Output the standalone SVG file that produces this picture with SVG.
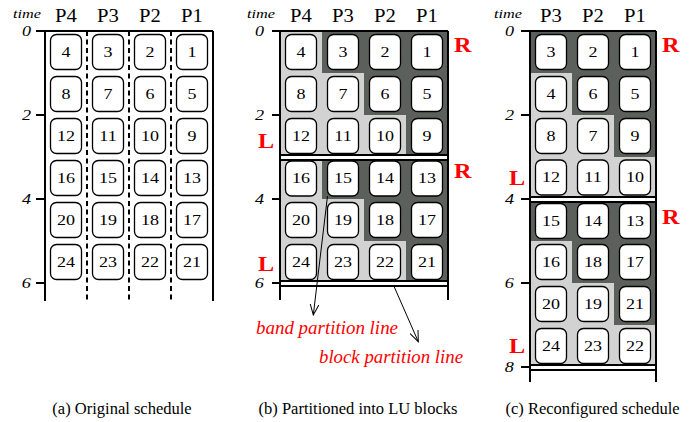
<svg xmlns="http://www.w3.org/2000/svg" width="697" height="422" viewBox="0 0 697 422" font-family="'Liberation Serif', 'DejaVu Serif', 'Times New Roman', serif">
<defs>
<style>
text{font-family:'Liberation Serif','DejaVu Serif','Times New Roman',serif}
.bx{fill:#fff;stroke:#000;stroke-width:1.3}
.n{font-size:15px;text-anchor:middle;transform-box:fill-box;transform-origin:50% 50%;transform:scaleX(1.2)}
.p{font-size:18px;text-anchor:middle;transform-box:fill-box;transform-origin:50% 50%;transform:scaleX(1.15)}
.tm{font-size:13px;font-style:italic;text-anchor:middle;transform-box:fill-box;transform-origin:50% 50%;transform:scaleX(1.25)}
.tk{font-size:14.5px;font-style:italic;text-anchor:end;transform-box:fill-box;transform-origin:100% 50%;transform:scaleX(1.25)}
.rl{font-size:22px;font-weight:bold;fill:#ff0000;transform-box:fill-box;transform-origin:0% 50%;transform:scaleX(1.1)}
.lbl{font-size:18px;font-style:italic;fill:#ff0000}
.cap{font-size:16.5px;text-anchor:middle}
.ln{stroke:#000;stroke-width:2;fill:none}
.dl{stroke:#000;stroke-width:2;stroke-dasharray:5 3.5;fill:none}
.dk{fill:#5c605c}
.lt{fill:#d2d2d2}
.ar{stroke:#000;stroke-width:1;fill:none;marker-end:url(#ah)}
</style>
<marker id="ah" viewBox="0 0 12 10" refX="11" refY="5" markerWidth="12" markerHeight="10" orient="auto" markerUnits="userSpaceOnUse"><path d="M0,0.5 L11,5 L0,9.5" fill="none" stroke="#000" stroke-width="1"/></marker>
</defs>
<rect width="697" height="422" fill="#fff"/>

<!-- Panel (a) -->
<g id="panel-a">
<text class="tm" x="27" y="18">time</text>
<text class="p" x="66" y="22">P4</text><text class="p" x="108" y="22">P3</text><text class="p" x="150" y="22">P2</text><text class="p" x="192" y="22">P1</text>
<path class="ln" d="M36,31H213M45,31V301M213,31V301M36,115H45M36,199H45M36,283H45"/>
<path class="dl" d="M87,31V301M129,31V301M171,31V301"/>
<text class="tk" x="31" y="36">0</text><text class="tk" x="31" y="120">2</text><text class="tk" x="31" y="204">4</text><text class="tk" x="31" y="288">6</text>
<text class="cap" x="122" y="414">(a) Original schedule</text>
</g>
<g id="a4"><rect class="bx" x="50.5" y="34.5" width="31" height="35" rx="6"/><text class="n" x="66" y="57">4</text></g>
<g id="a3"><rect class="bx" x="92.5" y="34.5" width="31" height="35" rx="6"/><text class="n" x="108" y="57">3</text></g>
<g id="a2"><rect class="bx" x="134.5" y="34.5" width="31" height="35" rx="6"/><text class="n" x="150" y="57">2</text></g>
<g id="a1"><rect class="bx" x="176.5" y="34.5" width="31" height="35" rx="6"/><text class="n" x="192" y="57">1</text></g>
<g id="a8"><rect class="bx" x="50.5" y="76.5" width="31" height="35" rx="6"/><text class="n" x="66" y="99">8</text></g>
<g id="a7"><rect class="bx" x="92.5" y="76.5" width="31" height="35" rx="6"/><text class="n" x="108" y="99">7</text></g>
<g id="a6"><rect class="bx" x="134.5" y="76.5" width="31" height="35" rx="6"/><text class="n" x="150" y="99">6</text></g>
<g id="a5"><rect class="bx" x="176.5" y="76.5" width="31" height="35" rx="6"/><text class="n" x="192" y="99">5</text></g>
<g id="a12"><rect class="bx" x="50.5" y="118.5" width="31" height="35" rx="6"/><text class="n" x="66" y="141">12</text></g>
<g id="a11"><rect class="bx" x="92.5" y="118.5" width="31" height="35" rx="6"/><text class="n" x="108" y="141">11</text></g>
<g id="a10"><rect class="bx" x="134.5" y="118.5" width="31" height="35" rx="6"/><text class="n" x="150" y="141">10</text></g>
<g id="a9"><rect class="bx" x="176.5" y="118.5" width="31" height="35" rx="6"/><text class="n" x="192" y="141">9</text></g>
<g id="a16"><rect class="bx" x="50.5" y="160.5" width="31" height="35" rx="6"/><text class="n" x="66" y="183">16</text></g>
<g id="a15"><rect class="bx" x="92.5" y="160.5" width="31" height="35" rx="6"/><text class="n" x="108" y="183">15</text></g>
<g id="a14"><rect class="bx" x="134.5" y="160.5" width="31" height="35" rx="6"/><text class="n" x="150" y="183">14</text></g>
<g id="a13"><rect class="bx" x="176.5" y="160.5" width="31" height="35" rx="6"/><text class="n" x="192" y="183">13</text></g>
<g id="a20"><rect class="bx" x="50.5" y="202.5" width="31" height="35" rx="6"/><text class="n" x="66" y="225">20</text></g>
<g id="a19"><rect class="bx" x="92.5" y="202.5" width="31" height="35" rx="6"/><text class="n" x="108" y="225">19</text></g>
<g id="a18"><rect class="bx" x="134.5" y="202.5" width="31" height="35" rx="6"/><text class="n" x="150" y="225">18</text></g>
<g id="a17"><rect class="bx" x="176.5" y="202.5" width="31" height="35" rx="6"/><text class="n" x="192" y="225">17</text></g>
<g id="a24"><rect class="bx" x="50.5" y="244.5" width="31" height="35" rx="6"/><text class="n" x="66" y="267">24</text></g>
<g id="a23"><rect class="bx" x="92.5" y="244.5" width="31" height="35" rx="6"/><text class="n" x="108" y="267">23</text></g>
<g id="a22"><rect class="bx" x="134.5" y="244.5" width="31" height="35" rx="6"/><text class="n" x="150" y="267">22</text></g>
<g id="a21"><rect class="bx" x="176.5" y="244.5" width="31" height="35" rx="6"/><text class="n" x="192" y="267">21</text></g>

<!-- Panel (b) -->
<g id="panel-b">
<rect class="lt" x="280" y="31" width="168" height="124"/>
<path class="dk" d="M322,31H448V155H406V115H364V73H322Z"/>
<rect class="lt" x="280" y="160" width="168" height="121"/>
<path class="dk" d="M322,160H448V281H406V241H364V199H322Z"/>
<text class="tm" x="261" y="18">time</text>
<text class="p" x="301" y="22">P4</text><text class="p" x="343" y="22">P3</text><text class="p" x="385" y="22">P2</text><text class="p" x="427" y="22">P1</text>
<path class="ln" d="M272,31H448M280,31V300M448,31V300M272,115H280M272,199H280M272,283H280M280,155H448M280,160H448M280,281H448M280,286H448"/>
<text class="tk" x="264" y="36">0</text><text class="tk" x="264" y="120">2</text><text class="tk" x="264" y="204">4</text><text class="tk" x="264" y="288">6</text>
<text class="rl" x="454" y="52">R</text><text class="rl" x="258" y="148">L</text>
<text class="rl" x="454" y="178">R</text><text class="rl" x="258" y="271">L</text>
<text class="lbl" x="256" y="334" textLength="142" lengthAdjust="spacingAndGlyphs">band partition line</text>
<text class="lbl" x="319" y="363" textLength="144" lengthAdjust="spacingAndGlyphs">block partition line</text>
<text class="cap" x="358" y="414">(b) Partitioned into LU blocks</text>
</g>
<g id="b4"><rect class="bx" x="285.5" y="34.5" width="31" height="35" rx="6"/><text class="n" x="301" y="57">4</text></g>
<g id="b3"><rect class="bx" x="327.5" y="34.5" width="31" height="35" rx="6"/><text class="n" x="343" y="57">3</text></g>
<g id="b2"><rect class="bx" x="369.5" y="34.5" width="31" height="35" rx="6"/><text class="n" x="385" y="57">2</text></g>
<g id="b1"><rect class="bx" x="411.5" y="34.5" width="31" height="35" rx="6"/><text class="n" x="427" y="57">1</text></g>
<g id="b8"><rect class="bx" x="285.5" y="76.5" width="31" height="35" rx="6"/><text class="n" x="301" y="99">8</text></g>
<g id="b7"><rect class="bx" x="327.5" y="76.5" width="31" height="35" rx="6"/><text class="n" x="343" y="99">7</text></g>
<g id="b6"><rect class="bx" x="369.5" y="76.5" width="31" height="35" rx="6"/><text class="n" x="385" y="99">6</text></g>
<g id="b5"><rect class="bx" x="411.5" y="76.5" width="31" height="35" rx="6"/><text class="n" x="427" y="99">5</text></g>
<g id="b12"><rect class="bx" x="285.5" y="118.5" width="31" height="35" rx="6"/><text class="n" x="301" y="141">12</text></g>
<g id="b11"><rect class="bx" x="327.5" y="118.5" width="31" height="35" rx="6"/><text class="n" x="343" y="141">11</text></g>
<g id="b10"><rect class="bx" x="369.5" y="118.5" width="31" height="35" rx="6"/><text class="n" x="385" y="141">10</text></g>
<g id="b9"><rect class="bx" x="411.5" y="118.5" width="31" height="35" rx="6"/><text class="n" x="427" y="141">9</text></g>
<g id="b16"><rect class="bx" x="285.5" y="161" width="31" height="35" rx="6"/><text class="n" x="301" y="183.5">16</text></g>
<g id="b15"><rect class="bx" x="327.5" y="161" width="31" height="35" rx="6"/><text class="n" x="343" y="183.5">15</text></g>
<g id="b14"><rect class="bx" x="369.5" y="161" width="31" height="35" rx="6"/><text class="n" x="385" y="183.5">14</text></g>
<g id="b13"><rect class="bx" x="411.5" y="161" width="31" height="35" rx="6"/><text class="n" x="427" y="183.5">13</text></g>
<g id="b20"><rect class="bx" x="285.5" y="202.5" width="31" height="35" rx="6"/><text class="n" x="301" y="225">20</text></g>
<g id="b19"><rect class="bx" x="327.5" y="202.5" width="31" height="35" rx="6"/><text class="n" x="343" y="225">19</text></g>
<g id="b18"><rect class="bx" x="369.5" y="202.5" width="31" height="35" rx="6"/><text class="n" x="385" y="225">18</text></g>
<g id="b17"><rect class="bx" x="411.5" y="202.5" width="31" height="35" rx="6"/><text class="n" x="427" y="225">17</text></g>
<g id="b24"><rect class="bx" x="285.5" y="244.5" width="31" height="35" rx="6"/><text class="n" x="301" y="267">24</text></g>
<g id="b23"><rect class="bx" x="327.5" y="244.5" width="31" height="35" rx="6"/><text class="n" x="343" y="267">23</text></g>
<g id="b22"><rect class="bx" x="369.5" y="244.5" width="31" height="35" rx="6"/><text class="n" x="385" y="267">22</text></g>
<g id="b21"><rect class="bx" x="411.5" y="244.5" width="31" height="35" rx="6"/><text class="n" x="427" y="267">21</text></g>

<!-- Panel (c) -->
<g id="panel-c">
<rect class="lt" x="530" y="31" width="126" height="166"/>
<path class="dk" d="M530,31H656V157H614V115H572V73H530Z"/>
<rect class="lt" x="530" y="202" width="126" height="163"/>
<path class="dk" d="M530,202H656V325H614V283H572V241H530Z"/>
<text class="tm" x="508" y="18">time</text>
<text class="p" x="551" y="22">P3</text><text class="p" x="593" y="22">P2</text><text class="p" x="635" y="22">P1</text>
<path class="ln" d="M521,31H656M530,31V382M656,31V382M521,115H530M521,199H530M521,283H530M521,367H530M530,197H656M530,202H656M530,365H656M530,370H656"/>
<text class="tk" x="514" y="36">0</text><text class="tk" x="514" y="120">2</text><text class="tk" x="514" y="204">4</text><text class="tk" x="514" y="288">6</text><text class="tk" x="514" y="372">8</text>
<text class="rl" x="662" y="52">R</text><text class="rl" x="509" y="185">L</text>
<text class="rl" x="662" y="224">R</text><text class="rl" x="509" y="353">L</text>
<text class="cap" x="592.5" y="414">(c) Reconfigured schedule</text>
</g>
<g id="c3"><rect class="bx" x="535.5" y="34.5" width="31" height="35" rx="6"/><text class="n" x="551" y="57">3</text></g>
<g id="c2"><rect class="bx" x="577.5" y="34.5" width="31" height="35" rx="6"/><text class="n" x="593" y="57">2</text></g>
<g id="c1"><rect class="bx" x="619.5" y="34.5" width="31" height="35" rx="6"/><text class="n" x="635" y="57">1</text></g>
<g id="c4"><rect class="bx" x="535.5" y="76.5" width="31" height="35" rx="6"/><text class="n" x="551" y="99">4</text></g>
<g id="c6"><rect class="bx" x="577.5" y="76.5" width="31" height="35" rx="6"/><text class="n" x="593" y="99">6</text></g>
<g id="c5"><rect class="bx" x="619.5" y="76.5" width="31" height="35" rx="6"/><text class="n" x="635" y="99">5</text></g>
<g id="c8"><rect class="bx" x="535.5" y="118.5" width="31" height="35" rx="6"/><text class="n" x="551" y="141">8</text></g>
<g id="c7"><rect class="bx" x="577.5" y="118.5" width="31" height="35" rx="6"/><text class="n" x="593" y="141">7</text></g>
<g id="c9"><rect class="bx" x="619.5" y="118.5" width="31" height="35" rx="6"/><text class="n" x="635" y="141">9</text></g>
<g id="c12"><rect class="bx" x="535.5" y="160" width="31" height="35" rx="6"/><text class="n" x="551" y="182.5">12</text></g>
<g id="c11"><rect class="bx" x="577.5" y="160" width="31" height="35" rx="6"/><text class="n" x="593" y="182.5">11</text></g>
<g id="c10"><rect class="bx" x="619.5" y="160" width="31" height="35" rx="6"/><text class="n" x="635" y="182.5">10</text></g>
<g id="c15"><rect class="bx" x="535.5" y="203.5" width="31" height="35" rx="6"/><text class="n" x="551" y="226">15</text></g>
<g id="c14"><rect class="bx" x="577.5" y="203.5" width="31" height="35" rx="6"/><text class="n" x="593" y="226">14</text></g>
<g id="c13"><rect class="bx" x="619.5" y="203.5" width="31" height="35" rx="6"/><text class="n" x="635" y="226">13</text></g>
<g id="c16"><rect class="bx" x="535.5" y="244.5" width="31" height="35" rx="6"/><text class="n" x="551" y="267">16</text></g>
<g id="c18"><rect class="bx" x="577.5" y="244.5" width="31" height="35" rx="6"/><text class="n" x="593" y="267">18</text></g>
<g id="c17"><rect class="bx" x="619.5" y="244.5" width="31" height="35" rx="6"/><text class="n" x="635" y="267">17</text></g>
<g id="c20"><rect class="bx" x="535.5" y="286.5" width="31" height="35" rx="6"/><text class="n" x="551" y="309">20</text></g>
<g id="c19"><rect class="bx" x="577.5" y="286.5" width="31" height="35" rx="6"/><text class="n" x="593" y="309">19</text></g>
<g id="c21"><rect class="bx" x="619.5" y="286.5" width="31" height="35" rx="6"/><text class="n" x="635" y="309">21</text></g>
<g id="c24"><rect class="bx" x="535.5" y="328.5" width="31" height="35" rx="6"/><text class="n" x="551" y="351">24</text></g>
<g id="c23"><rect class="bx" x="577.5" y="328.5" width="31" height="35" rx="6"/><text class="n" x="593" y="351">23</text></g>
<g id="c22"><rect class="bx" x="619.5" y="328.5" width="31" height="35" rx="6"/><text class="n" x="635" y="351">22</text></g>

<!-- Connectors -->
<g id="connectors">
<line class="ar" x1="327.5" y1="196" x2="313.3" y2="315"/>
<line class="ar" x1="394.3" y1="287" x2="418.3" y2="341.7"/>
</g>
</svg>
